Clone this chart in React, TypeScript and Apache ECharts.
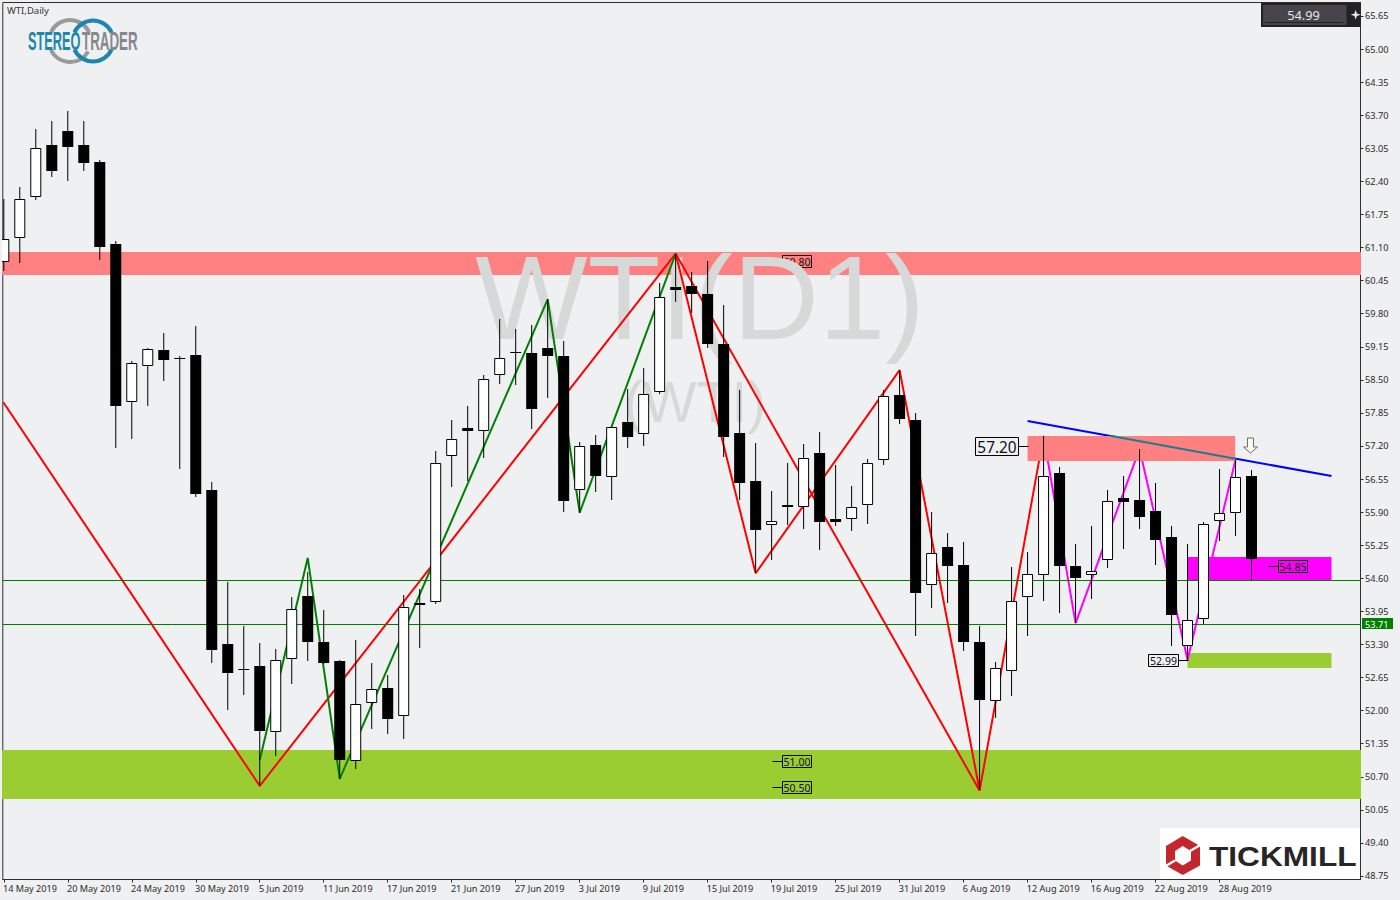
import React, { useEffect, useRef } from "react";
import * as echarts from "echarts";

const tickDates = ["14 May 2019","20 May 2019","24 May 2019","30 May 2019","5 Jun 2019","11 Jun 2019","17 Jun 2019","21 Jun 2019","27 Jun 2019","3 Jul 2019","9 Jul 2019","15 Jul 2019","19 Jul 2019","25 Jul 2019","31 Jul 2019","6 Aug 2019","12 Aug 2019","16 Aug 2019","22 Aug 2019","28 Aug 2019"];
const tickIndex = tickDates.map((_, i) => i * 4);
const priceTicks = [65.65,65.0,64.35,63.7,63.05,62.4,61.75,61.1,60.45,59.8,59.15,58.5,57.85,57.2,56.55,55.9,55.25,54.6,53.95,53.3,52.65,52.0,51.35,50.7,50.05,49.4,48.75];

const opens = [60.81,61.28,62.09,63.12,63.39,63.12,62.78,61.17,58.06,58.78,59.09,58.93,58.99,56.34,53.31,52.82,52.88,51.57,53.01,54.25,53.35,52.98,51.0,52.14,52.44,51.89,54.11,54.13,57.01,57.55,57.5,58.6,59.04,59.03,59.13,58.97,56.33,57.22,56.59,57.67,57.43,58.26,60.32,60.34,60.19,59.2,57.46,56.51,55.65,56.04,56.0,57.06,55.77,55.76,56.05,56.92,58.2,57.72,54.46,55.22,54.86,53.35,52.18,52.77,54.23,54.66,56.67,54.84,54.67,54.95,56.18,56.14,55.92,55.41,53.26,53.8,55.72,55.88,56.61];
const closes = [61.26,62.05,63.05,62.6,63.08,62.77,61.12,57.99,58.84,59.1,58.88,58.9,56.26,53.2,52.73,52.79,51.59,52.99,53.99,53.34,52.94,51.02,52.12,52.42,51.84,54.03,54.08,56.86,57.33,57.5,58.51,58.92,59.03,57.93,58.96,56.11,57.19,56.62,57.57,57.38,58.22,60.12,60.27,60.19,59.2,57.38,56.48,55.54,55.72,56.0,56.96,55.71,55.71,56.0,56.86,58.18,57.74,54.32,55.09,54.85,53.34,52.2,52.83,54.15,54.68,56.62,54.85,54.61,54.74,56.11,56.09,55.81,55.36,53.87,53.78,55.66,55.88,56.59,54.97];
const lows = [60.63,60.79,62.03,62.49,62.41,62.6,60.86,57.17,57.34,57.99,58.48,56.75,56.2,52.94,52.02,52.31,50.52,51.1,52.53,52.98,52.92,50.66,50.86,51.64,51.54,51.45,53.24,54.1,56.4,56.51,56.96,58.42,58.39,57.54,58.15,55.91,55.89,56.3,56.13,57.17,57.19,58.23,60.02,59.82,59.13,56.99,56.13,54.7,54.95,55.65,55.56,55.16,55.63,55.52,55.67,56.83,57.64,53.47,54.02,54.12,53.18,50.43,51.86,52.29,53.47,54.16,53.92,53.72,54.2,54.81,55.18,55.56,54.87,53.26,53.0,53.7,55.34,55.43,54.56];
const highs = [62.05,62.28,63.42,63.59,63.78,63.59,62.82,61.23,58.87,59.12,59.42,58.97,59.56,56.49,54.53,53.66,53.33,53.21,54.23,54.73,53.98,52.99,53.39,52.94,52.69,54.27,54.39,57.1,57.71,57.99,58.6,59.7,59.5,59.58,60.08,59.26,57.28,57.41,57.57,58.32,58.73,60.4,60.98,60.61,60.84,59.97,58.3,57.25,56.32,56.87,57.24,57.48,56.83,56.41,56.95,58.3,58.69,57.85,55.9,55.49,55.31,53.66,52.96,54.82,55.11,57.4,56.79,55.27,55.63,56.34,56.61,57.14,56.47,55.63,55.27,55.71,56.75,56.93,56.73];

const redMain: number[][] = [[-0.03,58.06],[16,50.52],[42,60.98],[47,54.7],[56,58.69],[61,50.43],[65,57.4]];
const redLong: number[][] = [[42,60.98],[61,50.43]];
const greenZig: number[][] = [[16,51.03],[19,55.0],[21,50.66],[34,60.08],[36,55.89],[42,60.98]];
const magentaZig: number[][] = [[65,57.4],[67,53.72],[71,57.14],[74,53.0],[77,56.93]];
const blueTrend: number[][] = [[64,57.69],[83,56.61]];
const tealTrend: number[][] = [[69.16,57.4],[77,56.95]];
const hLevels = [54.56, 53.71];

const backZoneX0 = [-1, -1, 74, 74];
const backZoneX1 = [90, 90, 83, 83];
const backZoneHi = [61.01, 51.23, 55.02, 53.13];
const backZoneLo = [60.56, 50.26, 54.57, 52.84];
const backZoneColor = ["#FF8080", "#9ACD32", "#FF00FF", "#9ACD32"];
const resistZone = [[64, 76.98, 57.4, 56.9]];

const notePrice = [51.0, 50.5, 54.85, 57.2, 52.99];
const noteIndex = [48, 48, 79, 64, 74];
const noteText = ["51.00", "50.50", "54.85", "57.20", "52.99"];
const hiddenNote = [[48, 60.835]];
const hiddenNoteText = ["60.80"];
const lastPrice = "54.99";

const FONT = '"Noto Sans"';
const BG = "#EFF0F2";
const WM = "#D7D9D8";
const DARK = "#2E2E2E";

function lineSeries(data: number[][], color: string, z: number, width = 2) {
  return { type: "line", data, z, silent: true, symbol: "none", animation: false, clip: true, lineStyle: { color, width } };
}

function noteGroup(p: number[], text: string, style: { right: boolean; w: number; h: number; fs: number; fill: string; leader: boolean }) {
  const y = Math.round(p[1]) + 0.5;
  const ax = Math.round(p[0]) + 0.5;
  const bx = style.right ? ax - 10 - style.w : ax + 10;
  const children: any[] = [];
  if (style.leader) {
    children.push({ type: "line", shape: { x1: ax, y1: y, x2: style.right ? ax - 10 : ax + 10, y2: y }, style: { stroke: "#000", lineWidth: 1 } });
  }
  children.push({ type: "rect", shape: { x: bx, y: y - style.h / 2, width: style.w, height: style.h }, style: { fill: style.fill, stroke: "#000", lineWidth: 1 } });
  children.push({ type: "text", style: { text, x: bx + style.w / 2, y: y + 0.5, align: "center", verticalAlign: "middle", font: `${style.fs}px ${FONT}`, fill: "#101018" } });
  return { type: "group", children };
}

function renderCandle(params: any, api: any) {
  const i = api.value(0);
  const o = api.value(1), c = api.value(2), l = api.value(3), h = api.value(4);
  const x = api.coord([i, o])[0];
  const yO = api.coord([i, o])[1], yC = api.coord([i, c])[1];
  const yL = Math.round(api.coord([i, l])[1]), yH = Math.round(api.coord([i, h])[1]);
  const top = Math.round(Math.min(yO, yC));
  const bot = Math.round(Math.max(yO, yC));
  const wick = { type: "line", shape: { x1: x, y1: yH, x2: x, y2: yL }, style: { stroke: "#000", lineWidth: 1 } };
  const body = c > o
    ? { type: "rect", shape: { x: x - 5, y: top + 0.5, width: 10, height: Math.max(bot - top - 1, 2) }, style: { fill: "#fff", stroke: "#000", lineWidth: 1 } }
    : { type: "rect", shape: { x: x - 5.5, y: top, width: 11, height: Math.max(bot - top, 1) }, style: { fill: "#000" } };
  return { type: "group", children: [wick, body] };
}

function renderZone(colors: string[]) {
  return (params: any, api: any) => {
    const a = api.coord([api.value(0), api.value(2)]);
    const b = api.coord([api.value(1), api.value(3)]);
    const y0 = Math.round(a[1]), y1 = Math.round(b[1]);
    return { type: "rect", shape: { x: a[0], y: y0, width: b[0] - a[0], height: y1 - y0 }, style: { fill: colors[params.dataIndex] } };
  };
}

function star(cx: number, cy: number, r: number, s: number) {
  return [[cx, cy - r], [cx + s, cy - s], [cx + r, cy], [cx + s, cy + s], [cx, cy + r], [cx - s, cy + s], [cx - r, cy], [cx - s, cy - s]];
}

function buildGraphic() {
  const deg = Math.PI / 180;
  const els: any[] = [
    { type: "text", z: 3, x: 700, y: 297, silent: true, style: { text: "WTI(D1)", font: '119px "Liberation Sans"', fill: WM, align: "center", verticalAlign: "middle" } },
    { type: "text", z: 3, x: 695, y: 402, silent: true, style: { text: "(WTI)", font: '57px "Liberation Sans"', fill: WM, align: "center", verticalAlign: "middle" } },
    { type: "text", z: 20, x: 7, y: 10.5, style: { text: "WTI,Daily", font: `9.5px ${FONT}`, fill: "#333", align: "left", verticalAlign: "middle" } },

    { type: "arc", z: 10, shape: { cx: 70, cy: 41, r: 21, startAngle: 205 * deg, endAngle: 335 * deg, clockwise: true }, style: { stroke: "#9A9A9A", lineWidth: 4, fill: "none" } },
    { type: "arc", z: 10, shape: { cx: 70, cy: 41, r: 21, startAngle: 30 * deg, endAngle: 155 * deg, clockwise: true }, style: { stroke: "#9A9A9A", lineWidth: 4, fill: "none" } },
    { type: "arc", z: 11, shape: { cx: 93, cy: 41, r: 20.5, startAngle: 205 * deg, endAngle: 335 * deg, clockwise: true }, style: { stroke: "#1C86AE", lineWidth: 4, fill: "none" } },
    { type: "arc", z: 11, shape: { cx: 93, cy: 41, r: 20.5, startAngle: 25 * deg, endAngle: 155 * deg, clockwise: true }, style: { stroke: "#1C86AE", lineWidth: 4, fill: "none" } },
    { type: "text", z: 12, x: 28, y: 41.5, scaleX: 0.51, style: { text: "STEREO", font: 'bold 25px "Liberation Sans"', fill: "#1C86AE", align: "left", verticalAlign: "middle" } },
    { type: "text", z: 12, x: 82, y: 41.5, scaleX: 0.535, style: { text: "TRADER", font: 'bold 25px "Liberation Sans"', fill: "#85888B", align: "left", verticalAlign: "middle" } },

    { type: "rect", z: 20, shape: { x: 1261, y: 3, width: 99.5, height: 24 }, style: { fill: "#222224" } },
    { type: "rect", z: 21, shape: { x: 1263, y: 5, width: 83.5, height: 20 }, style: { fill: "#47444B" } },
    { type: "rect", z: 22, shape: { x: 1265, y: 22, width: 78, height: 1 }, style: { fill: "#222224" } },
    { type: "text", z: 22, x: 1303.5, y: 14.5, style: { text: lastPrice, font: `12.8px ${FONT}`, fill: "#E4E4E6", align: "center", verticalAlign: "middle" } },
    { type: "polygon", z: 22, shape: { points: star(1355.7, 14.7, 5, 1.2) }, style: { fill: "#E8E8E8" } },

    { type: "rect", z: 20, shape: { x: 1160, y: 828, width: 200, height: 51 }, style: { fill: "#FFFFFF" } },
    { type: "polygon", z: 21, shape: { points: [[1182.7, 836], [1200, 846], [1200, 865.5], [1182.7, 875], [1166, 865.5], [1166, 846]] }, style: { fill: "#C4262E" } },
    { type: "polygon", z: 22, shape: { points: [[1182.7, 846], [1191, 851], [1191, 860.5], [1182.7, 865.5], [1175, 860.5], [1175, 851]] }, style: { fill: "#FFFFFF" } },
    { type: "line", z: 22, shape: { x1: 1190, y1: 851, x2: 1202, y2: 844 }, style: { stroke: "#FFFFFF", lineWidth: 2.5 } },
    { type: "line", z: 22, shape: { x1: 1175, y1: 860.5, x2: 1164, y2: 867 }, style: { stroke: "#FFFFFF", lineWidth: 2.5 } },
    { type: "text", z: 22, x: 1209, y: 856.5, scaleX: 1.13, style: { text: "TICKMILL", font: 'bold 28px "Liberation Sans"', fill: "#262626", align: "left", verticalAlign: "middle" } },
  ];
  return els;
}

export default function App() {
  const ref = useRef<HTMLDivElement>(null);
  useEffect(() => {
    document.body.style.margin = "0";
    document.body.style.background = BG;
    const chart = echarts.init(ref.current!, null, { renderer: "svg" });
    const candles = opens.map((o, i) => [i, o, closes[i], lows[i], highs[i]]);
    const backZones = backZoneX0.map((x, i) => [x, backZoneX1[i], backZoneHi[i], backZoneLo[i]]);
    const xEnd = 84.8125;

    chart.setOption({
      animation: false,
      backgroundColor: BG,
      grid: { left: 2.5, top: 2.5, width: 1358, height: 877, show: true, backgroundColor: BG, borderColor: DARK, borderWidth: 1 },
      xAxis: {
        type: "value", min: -0.0625, max: xEnd, position: "bottom", splitLine: { show: false },
        axisLine: { show: true, onZero: false, lineStyle: { color: DARK, width: 1 } },
        axisTick: { show: true, customValues: tickIndex, length: 3, lineStyle: { color: DARK } },
        axisLabel: {
          customValues: tickIndex.map((v) => v - 0.05), margin: 4, align: "left", color: "#2A2A2A", fontSize: 9.1, fontFamily: "Noto Sans",
          formatter: (v: number) => tickDates[Math.round(v / 4)] ?? "",
        },
      },
      yAxis: {
        type: "value", min: 48.681, max: 65.915, position: "right", splitLine: { show: false },
        axisLine: { show: true, onZero: false, lineStyle: { color: DARK, width: 1 } },
        axisTick: { show: true, customValues: priceTicks, length: 3, lineStyle: { color: DARK } },
        axisLabel: {
          customValues: priceTicks, margin: 4.5, color: "#2A2A2A", fontSize: 9.2, fontFamily: "Noto Sans", padding: [1.5, 0, 0, 0],
          formatter: (v: number) => v.toFixed(2),
        },
      },
      graphic: { elements: buildGraphic() },
      series: [
        { type: "custom", z: 1, clip: true, silent: true, data: backZones, renderItem: renderZone(backZoneColor) },
        {
          type: "custom", z: 2, clip: true, silent: true, data: hiddenNote,
          renderItem: (params: any, api: any) => noteGroup(api.coord([api.value(0), api.value(1)]), hiddenNoteText[params.dataIndex], { right: false, w: 29, h: 12, fs: 10.5, fill: "none", leader: true }),
        },
        lineSeries(redMain, "#FF0000", 4),
        lineSeries(redLong, "#FF0000", 4),
        lineSeries(greenZig, "#008000", 4),
        lineSeries(magentaZig, "#FF00FF", 4),
        lineSeries(blueTrend, "#0000FF", 4),
        {
          type: "custom", z: 4.5, clip: true, silent: true, data: hLevels.map((v) => [-0.0625, v]),
          renderItem: (params: any, api: any) => {
            const a = api.coord([api.value(0), api.value(1)]);
            const b = api.coord([xEnd, api.value(1)]);
            const y = Math.round(a[1]) + 0.5;
            return { type: "line", shape: { x1: a[0], y1: y, x2: b[0], y2: y }, style: { stroke: "#008000", lineWidth: 1 } };
          },
        },
        { type: "custom", z: 5, clip: true, silent: true, data: resistZone, renderItem: renderZone(["#FF8080"]) },
        lineSeries(tealTrend, "#1C7D92", 6),
        { type: "custom", z: 7, clip: true, silent: true, data: candles, renderItem: renderCandle },
        {
          type: "custom", z: 8, clip: false, silent: true, data: notePrice.map((p, i) => [noteIndex[i], p]),
          renderItem: (params: any, api: any) => {
            const i = params.dataIndex;
            const big = i === 3;
            const right = i >= 3;
            return noteGroup(api.coord([api.value(0), api.value(1)]), noteText[i], {
              right, w: big ? 43 : right ? 30 : 29, h: big ? 18 : 12, fs: big ? 15.4 : 10.5, fill: right ? BG : "none", leader: true,
            });
          },
        },
        {
          type: "custom", z: 8, clip: false, silent: true, data: [[77.9, 57.21]],
          renderItem: (params: any, api: any) => {
            const p = api.coord([api.value(0), api.value(1)]);
            const x = Math.round(p[0]) + 0.5, y = Math.round(p[1]);
            return {
              type: "polygon",
              shape: { points: [[x - 3, y - 7], [x + 3, y - 7], [x + 3, y + 2], [x + 7, y + 2], [x, y + 8], [x - 7, y + 2], [x - 3, y + 2]] },
              style: { fill: "#FBFBF6", stroke: "#6F6F5A", lineWidth: 1 },
            };
          },
        },
        {
          type: "custom", z: 8, clip: false, silent: true, data: [[xEnd, hLevels[1]]],
          renderItem: (params: any, api: any) => {
            const p = api.coord([api.value(0), api.value(1)]);
            const y = Math.round(p[1]);
            return {
              type: "group",
              children: [
                { type: "rect", shape: { x: p[0] + 1.5, y: y - 6, width: 31, height: 11 }, style: { fill: "#008000" } },
                { type: "text", style: { text: api.value(1).toFixed(2), x: p[0] + 4.5, y: y, align: "left", verticalAlign: "middle", font: `9.2px ${FONT}`, fill: "#FFFFFF" } },
              ],
            };
          },
        },
      ],
    });
    return () => chart.dispose();
  }, []);
  return <div ref={ref} style={{ position: "fixed", left: 0, top: 0, width: 1400, height: 900 }} />;
}
